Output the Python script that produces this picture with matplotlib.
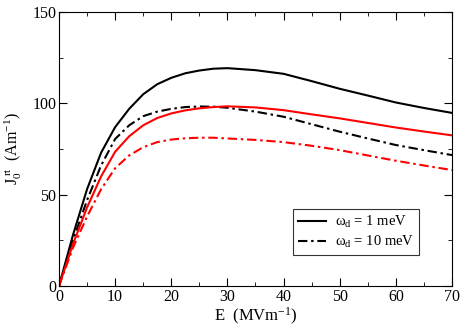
import matplotlib
matplotlib.use("Agg")
import matplotlib.pyplot as plt
from matplotlib.ticker import MultipleLocator

plt.rcParams['font.family'] = ['Liberation Serif', 'DejaVu Serif']
plt.rcParams['mathtext.fontset'] = 'custom'
plt.rcParams['mathtext.rm'] = 'Liberation Serif'
plt.rcParams['mathtext.it'] = 'Liberation Serif:italic'

E = [0, 2.5, 5, 7.5, 10, 12.5, 15, 17.5, 20, 22.5, 25, 27.5, 30,
     35, 40, 45, 50, 55, 60, 65, 70]
black_solid = [0, 28, 53, 73, 87, 97, 105, 110.5, 114, 116.5, 118, 119, 119.3,
               118.2, 116.2, 112.2, 108, 104.3, 100.5, 97.5, 94.8]
black_dd = [0, 25, 47, 66, 80.5, 88, 93, 95.5, 97, 98, 98.3, 98.2, 97.6,
            95.5, 92.7, 88.6, 84.5, 80.8, 77.2, 74.4, 71.7]
red_solid = [0, 23, 43, 60, 73.5, 82, 88, 92, 94.5, 96.2, 97.3, 98, 98.4,
             97.8, 96.3, 94, 91.8, 89.3, 86.8, 84.6, 82.5]
red_dd = [0, 21, 38, 53, 64.5, 71.5, 76, 78.8, 80.2, 80.9, 81.2, 81.2, 80.8,
          80, 78.8, 76.8, 74.4, 71.5, 68.6, 66, 63.5]

fig = plt.figure(figsize=(4.63, 3.27), dpi=100)
ax = fig.add_axes([0.1274, 0.1254, 0.8488, 0.8376])

dd = (0, (4.5, 1.8, 1.2, 1.8))
lw = 1.5
l1, = ax.plot(E, black_solid, color='black', lw=lw, label='ω$_{\\rm d}$ = 1 meV')
l2, = ax.plot(E, black_dd, color='black', lw=lw, linestyle=dd, label='ω$_{\\rm d}$ = 10 meV')
ax.plot(E, red_solid, color='red', lw=lw)
ax.plot(E, red_dd, color='red', lw=lw, linestyle=dd)

ax.set_xlim(0, 70)
ax.set_ylim(0, 150)
ax.xaxis.set_major_locator(MultipleLocator(10))
ax.xaxis.set_minor_locator(MultipleLocator(5))
ax.yaxis.set_major_locator(MultipleLocator(50))
ax.yaxis.set_minor_locator(MultipleLocator(25))
ax.tick_params(which='both', direction='in', top=True, right=True, labelsize=11.5)
ax.tick_params(which='major', length=6)
ax.tick_params(which='minor', length=3)
ax.tick_params(axis='both', pad=2)

ax.set_xlabel(r'E  (MVm$^{-1}$)', fontsize=12, labelpad=1)
ax.set_ylabel(r'J$_0^{\ \rm rt}$  (Am$^{-1}$)', fontsize=11.5, labelpad=6)

leg = ax.legend(handles=[l1, l2], loc='lower right', bbox_to_anchor=(0.916, 0.113),
                borderaxespad=0,
                fontsize=10.5, frameon=True, fancybox=False, edgecolor='black',
                handlelength=1.9, handletextpad=0.6, borderpad=0.35, labelspacing=0.25)
leg.get_frame().set_linewidth(0.8)

fig.savefig('out.png', dpi=100)
